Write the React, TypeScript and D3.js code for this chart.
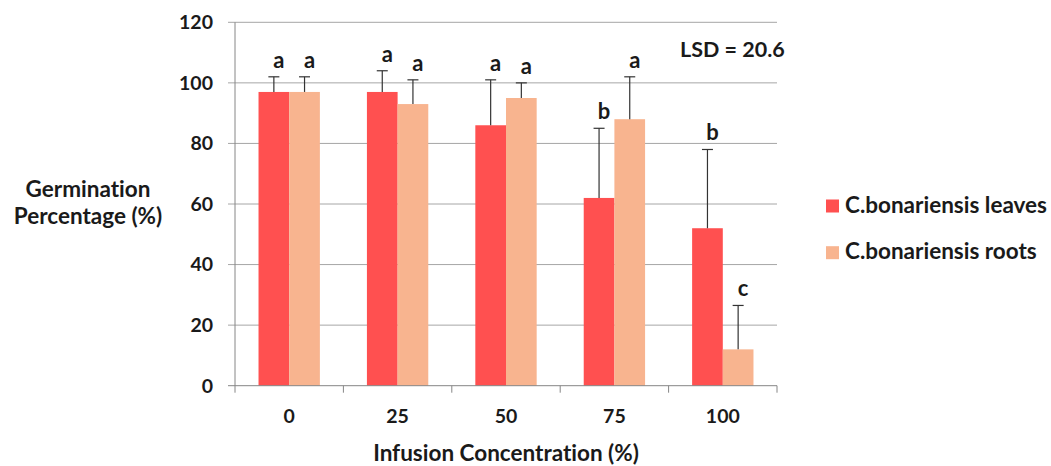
import React from "react";
import * as d3 from "d3";

const categories = ["0", "25", "50", "75", "100"];
const seriesNames = ["C.bonariensis leaves", "C.bonariensis roots"];
const leaves = [97, 97, 86, 62, 52];
const roots = [97, 93, 95, 88, 12];
const leavesErr = [5, 7, 15, 23, 26];
const rootsErr = [5, 8, 5, 14, 14.5];
const leavesLetters = ["a", "a", "a", "b", "b"];
const rootsLetters = ["a", "a", "a", "a", "c"];
const yTicks = [0, 20, 40, 60, 80, 100, 120];
const colors = ["#FF5050", "#F8B48F"];

const FONT = "Lato, 'Open Sans', sans-serif";

export default function App() {
  const W = 1051, H = 466;
  const left = 235, right = 777, top = 22.3, bottom = 385.7;
  const x = d3.scaleBand().domain(categories).range([left, right]).paddingInner(0).paddingOuter(0);
  const y = d3.scaleLinear().domain([0, 120]).range([bottom, top]);
  const groupFrac = 0.566;
  const barW = (x.bandwidth() * groupFrac) / 2;
  const series = [
    { vals: leaves, errs: leavesErr, letters: leavesLetters },
    { vals: roots, errs: rootsErr, letters: rootsLetters },
  ];
  const gridColor = "#A6A6A6";
  const axisColor = "#868686";
  const textColor = "#1a1a1a";

  return (
    <svg width={W} height={H} style={{ position: "absolute", left: 0, top: 0, fontVariantLigatures: "none" }} fontFamily={FONT}>
      <rect width={W} height={H} fill="#fff" />
      {yTicks.filter((t) => t > 0).map((t) => (
        <line key={"g" + t} x1={left - 7} x2={right} y1={y(t)} y2={y(t)} stroke={gridColor} strokeWidth={1} />
      ))}
      {/* y axis */}
      <line x1={left} x2={left} y1={y(120)} y2={y(0)} stroke={axisColor} strokeWidth={1} />
      <line x1={left - 7} x2={left} y1={y(0)} y2={y(0)} stroke={axisColor} />
      {yTicks.map((t) => (
        <text key={"yt" + t} x={left - 22} y={y(t)} dy="0.35em" textAnchor="end" fontSize={19.5} fontWeight="bold" fill={textColor}>
          {t}
        </text>
      ))}
      {/* bars */}
      {series.map((s, si) =>
        categories.map((c, ci) => {
          const cx = x(c)! + x.bandwidth() / 2;
          const bx = cx - barW + si * barW;
          return (
            <rect key={`b${si}-${ci}`} x={bx} y={y(s.vals[ci])} width={barW} height={y(0) - y(s.vals[ci])} fill={colors[si]} />
          );
        })
      )}
      {/* x axis */}
      <line x1={left} x2={right} y1={y(0)} y2={y(0)} stroke={axisColor} strokeWidth={1} />
      {categories.map((c) => (
        <line key={"xt" + c} x1={x(c)!} x2={x(c)!} y1={y(0)} y2={y(0) + 7} stroke={axisColor} />
      ))}
      <line x1={right} x2={right} y1={y(0)} y2={y(0) + 7} stroke={axisColor} />
      {categories.map((c) => (
        <text key={"xl" + c} x={x(c)! + x.bandwidth() / 2} y={423} textAnchor="middle" fontSize={19.5} fontWeight="bold" fill={textColor}>
          {c}
        </text>
      ))}
      {/* error bars and letters */}
      {series.map((s, si) =>
        categories.map((c, ci) => {
          const cx = x(c)! + x.bandwidth() / 2 - barW / 2 + si * barW;
          const yTop = y(s.vals[ci] + s.errs[ci]);
          return (
            <g key={`e${si}-${ci}`}>
              <line x1={cx} x2={cx} y1={y(s.vals[ci])} y2={yTop} stroke="#333" strokeWidth={1.2} />
              <line x1={cx - 5.5} x2={cx + 5.5} y1={yTop} y2={yTop} stroke="#333" strokeWidth={1.2} />
              <text x={cx + 5} y={yTop - 9} textAnchor="middle" fontSize={22} fontWeight="bold" fill={textColor}>
                {s.letters[ci]}
              </text>
            </g>
          );
        })
      )}
      <text x={680} y={57} fontSize={21.5} fontWeight="bold" fill={textColor}>LSD = 20.6</text>
      {/* axis titles */}
      <text x={88} y={197} textAnchor="middle" fontSize={22.5} fontWeight="bold" fill={textColor}>Germination</text>
      <text x={88} y={224} textAnchor="middle" fontSize={22.5} fontWeight="bold" fill={textColor}>Percentage (%)</text>
      <text x={506} y={461} textAnchor="middle" fontSize={22.5} fontWeight="bold" fill={textColor}>Infusion Concentration (%)</text>
      {/* legend */}
      {seriesNames.map((n, i) => (
        <g key={"lg" + i}>
          <rect x={826} y={199.5 + i * 46.7} width={13} height={13} fill={colors[i]} />
          <text x={845} y={212.5 + i * 46.7} fontSize={22.5} fontWeight="bold" fill={textColor}>{n}</text>
        </g>
      ))}
    </svg>
  );
}
